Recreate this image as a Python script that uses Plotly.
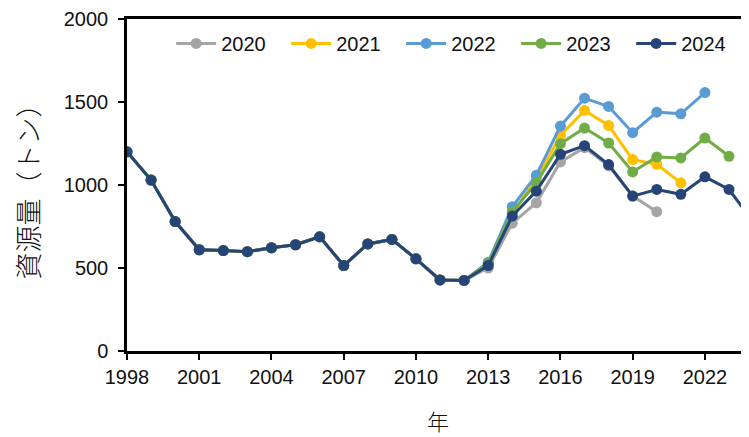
import plotly.graph_objects as go

years = list(range(1998, 2025))

base_1998_2012 = [1200, 1030, 780, 610, 605, 598, 622, 640, 688, 515, 645, 672, 555, 428, 425]

s2020_tail = [500, 770, 893, 1139, 1225, 1115, 933, 839]
s2021_tail = [525, 830, 1035, 1299, 1449, 1359, 1153, 1125, 1013]
s2022_tail = [535, 869, 1059, 1355, 1523, 1473, 1315, 1439, 1429, 1557]
s2023_tail = [530, 839, 1013, 1249, 1343, 1253, 1079, 1169, 1163, 1283, 1173]
s2024_tail = [515, 813, 963, 1185, 1237, 1123, 933, 973, 944, 1049, 973, 780]

series_names = ["2020", "2021", "2022", "2023", "2024"]
series_tails = [s2020_tail, s2021_tail, s2022_tail, s2023_tail, s2024_tail]
colors = ["#A5A5A5", "#FFC000", "#5B9BD5", "#70AD47", "#264478"]

x_tick_vals = list(range(1998, 2025, 3))
y_tick_vals = [0, 500, 1000, 1500, 2000]

fig = go.Figure()
for name, tail, col in zip(series_names, series_tails, colors):
    vals = base_1998_2012 + tail
    fig.add_trace(go.Scatter(
        x=years[:len(vals)], y=vals, name=name, mode="lines+markers",
        line=dict(color=col, width=3),
        marker=dict(color=col, size=11, symbol="circle"),
    ))

font_family = "Liberation Sans, Arial, Noto Sans CJK JP, sans-serif"
cjk_family = "Noto Sans CJK JP, sans-serif"

fig.update_layout(
    width=741, height=429,
    margin=dict(l=119, r=0, t=9, b=86),
    plot_bgcolor="white", paper_bgcolor="white",
    font=dict(family=font_family, size=20, color="#111111"),
    showlegend=True,
    legend=dict(
        orientation="h", x=0.071, y=0.985, xanchor="left", yanchor="top",
        bgcolor="rgba(0,0,0,0)", font=dict(size=20),
        entrywidth=60, entrywidthmode="pixels",
        itemwidth=40, tracegroupgap=0,
    ),
    xaxis=dict(
        range=[1998, 2023.83], tickmode="array", tickvals=x_tick_vals,
        ticktext=[str(v) for v in x_tick_vals],
        showgrid=False, zeroline=False,
        showline=True, linecolor="black", linewidth=2.5, mirror=True,
        ticks="outside", ticklen=6, tickwidth=2, tickcolor="black",
        ticklabeloverflow="allow",
        title=dict(text="年", font=dict(family=cjk_family, size=22, weight=300), standoff=28),
    ),
    yaxis=dict(
        range=[0, 2000], tickmode="array", tickvals=y_tick_vals,
        showgrid=False, zeroline=False,
        showline=True, linecolor="black", linewidth=2.5,
        ticks="outside", ticklen=6, tickwidth=2, tickcolor="black",
        ticklabeloverflow="allow", ticklabelstandoff=6,
        title=dict(text="資源量（トン）", font=dict(family=cjk_family, size=27, weight=300), standoff=24),
    ),
)

fig.write_html("out.html")
